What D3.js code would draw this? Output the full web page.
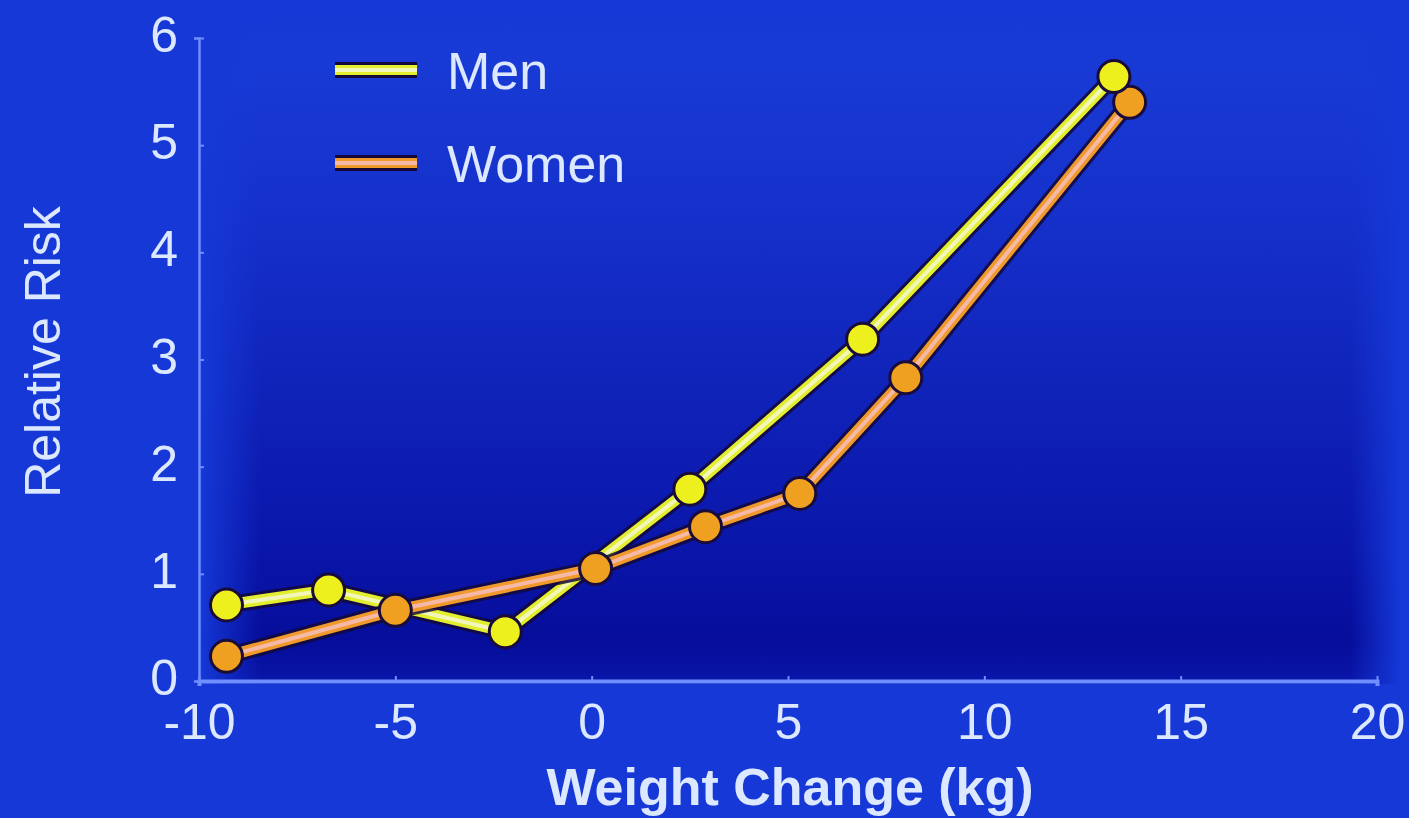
<!DOCTYPE html>
<html>
<head>
<meta charset="utf-8">
<script src="https://cdn.jsdelivr.net/npm/d3@7"></script>
<style>
  html, body { margin: 0; padding: 0; background: #1538d6; }
  svg { display: block; }
  text { font-family: "Liberation Sans", Arial, sans-serif; fill: #dce8ff; }
</style>
</head>
<body>
<svg id="chart" width="1409" height="818"></svg>
<script>
// Relative risk by weight change (kg)
const menWeight    = [-9.3, -6.7, -2.2, 2.5, 6.9, 13.3];
const menRisk      = [0.71, 0.85, 0.46, 1.79, 3.19, 5.64];
const womenWeight  = [-9.3, -5.0, 0.1, 2.9, 5.3, 8.0, 13.7];
const womenRisk    = [0.23, 0.66, 1.05, 1.44, 1.75, 2.83, 5.40];
const xTicks = [-10, -5, 0, 5, 10, 15, 20];
const yTicks = [0, 1, 2, 3, 4, 5, 6];
const seriesNames = ["Men", "Women"];

const W = 1409, H = 818;
const bg = "#1538d6";
const svg = d3.select("#chart");
const defs = svg.append("defs");

// Panel shading: bright at the top, deep navy just above the x axis
const grad = defs.append("linearGradient").attr("id", "panelGrad")
  .attr("x1", 0).attr("y1", 0).attr("x2", 0).attr("y2", 1);
[["0%", "#1a3ed8"], ["30%", "#1631cc"], ["55%", "#1024ba"], ["80%", "#0a16aa"],
 ["94%", "#060d9a"], ["100%", "#0a17aa"]]
  .forEach(([o, c]) => grad.append("stop").attr("offset", o).attr("stop-color", c));

// Side fades so the panel blends into the surround
function fade(id, x1, x2) {
  const g = defs.append("linearGradient").attr("id", id)
    .attr("x1", x1).attr("y1", 0).attr("x2", x2).attr("y2", 0);
  g.append("stop").attr("offset", "0%").attr("stop-color", bg).attr("stop-opacity", 1);
  g.append("stop").attr("offset", "100%").attr("stop-color", bg).attr("stop-opacity", 0);
}
fade("fadeL", 0, 1);
fade("fadeR", 1, 0);
const fadeT = defs.append("linearGradient").attr("id", "fadeT")
  .attr("x1", 0).attr("y1", 0).attr("x2", 0).attr("y2", 1);
fadeT.append("stop").attr("offset", "0%").attr("stop-color", bg).attr("stop-opacity", 1);
fadeT.append("stop").attr("offset", "100%").attr("stop-color", bg).attr("stop-opacity", 0);

defs.append("filter").attr("id", "glow")
  .append("feGaussianBlur").attr("stdDeviation", 0.6);

svg.append("rect").attr("width", W).attr("height", H).attr("fill", bg);
svg.append("rect").attr("x", 200).attr("y", 0).attr("width", 1200).attr("height", 684)
  .attr("fill", "url(#panelGrad)");
svg.append("rect").attr("x", 200).attr("y", 0).attr("width", 60).attr("height", 684).attr("fill", "url(#fadeL)");
svg.append("rect").attr("x", 1350).attr("y", 0).attr("width", 50).attr("height", 684).attr("fill", "url(#fadeR)");
svg.append("rect").attr("x", 200).attr("y", 0).attr("width", 1200).attr("height", 90).attr("fill", "url(#fadeT)");

const x = d3.scaleLinear().domain([-10, 20]).range([199, 1377]);
const y = d3.scaleLinear().domain([0, 6]).range([681, 38]);

// Axes
const axisColor = "#6f8fff";
const fmt = d => String(d);
const xAxis = svg.append("g").attr("transform", `translate(0,${y(0)})`)
  .call(d3.axisBottom(x).tickValues(xTicks).tickSize(5).tickPadding(8).tickFormat(fmt));
const yAxis = svg.append("g").attr("transform", `translate(${x(-10)},0)`)
  .call(d3.axisLeft(y).tickValues(yTicks).tickSize(5).tickPadding(16).tickFormat(fmt));
xAxis.select(".domain").attr("stroke", axisColor).attr("stroke-width", 4);
yAxis.select(".domain").attr("stroke", axisColor).attr("stroke-width", 2.5);
[xAxis, yAxis].forEach(g => {
  g.selectAll(".tick line").attr("stroke", axisColor).attr("stroke-width", 2);
  g.selectAll(".tick text").attr("fill", "#dce8ff")
    .style("font-family", "'Liberation Sans', Arial, sans-serif")
    .style("font-size", "50px").attr("filter", "url(#glow)");
});
xAxis.selectAll(".tick text").attr("dy", "0.9em");
yAxis.selectAll(".tick text").attr("dy", "0.27em");
xAxis.selectAll(".tick line").attr("y2", -5);
yAxis.selectAll(".tick line").attr("x2", 5);

// Axis titles
svg.append("text").attr("x", 790).attr("y", 805).attr("text-anchor", "middle")
  .style("font-size", "52px").style("font-weight", "bold").attr("filter", "url(#glow)")
  .text("Weight Change (kg)");
svg.append("text").attr("transform", "translate(60,352) rotate(-90)").attr("text-anchor", "middle")
  .style("font-size", "50px").attr("filter", "url(#glow)")
  .text("Relative Risk");

// Series styling
const styles = {
  Men:   { main: "#e2ee2e", core: "#f2f6b8", dot: "#eef01e" },
  Women: { main: "#ef9a2a", core: "#f6b9a8", dot: "#f0a020" }
};
const series = [
  { name: "Men", pts: menWeight.map((w, i) => [w, menRisk[i]]) },
  { name: "Women", pts: womenWeight.map((w, i) => [w, womenRisk[i]]) }
];
const line = d3.line().x(d => x(d[0])).y(d => y(d[1]));

function drawLine(s) {
  const st = styles[s.name];
  const g = svg.append("g");
  g.append("path").attr("d", line(s.pts)).attr("fill", "none")
    .attr("stroke", "#14083a").attr("stroke-opacity", 0.85).attr("stroke-width", 17).attr("stroke-linejoin", "round");
  g.append("path").attr("d", line(s.pts)).attr("fill", "none")
    .attr("stroke", st.main).attr("stroke-width", 11).attr("stroke-linejoin", "round");
  g.append("path").attr("d", line(s.pts)).attr("fill", "none")
    .attr("stroke", st.core).attr("stroke-width", 4).attr("stroke-linejoin", "round");
}
function drawDots(s) {
  const st = styles[s.name];
  svg.append("g").selectAll("circle").data(s.pts).join("circle")
    .attr("cx", d => x(d[0])).attr("cy", d => y(d[1])).attr("r", 16)
    .attr("fill", st.dot).attr("stroke", "#1a0c3a").attr("stroke-width", 3);
}
drawLine(series[0]);
drawLine(series[1]);
drawDots(series[1]);
drawDots(series[0]);

// Legend
const legend = svg.append("g");
seriesNames.forEach((name, i) => {
  const st = styles[name];
  const ly = 70 + i * 93;
  legend.append("line").attr("x1", 335).attr("x2", 417).attr("y1", ly).attr("y2", ly)
    .attr("stroke", "#14083a").attr("stroke-width", 16);
  legend.append("line").attr("x1", 335).attr("x2", 417).attr("y1", ly).attr("y2", ly)
    .attr("stroke", st.main).attr("stroke-width", 10);
  legend.append("line").attr("x1", 335).attr("x2", 417).attr("y1", ly).attr("y2", ly)
    .attr("stroke", st.core).attr("stroke-width", 4);
  legend.append("text").attr("x", 447).attr("y", ly + 19)
    .style("font-size", "52px").attr("filter", "url(#glow)").text(name);
});
</script>
</body>
</html>
